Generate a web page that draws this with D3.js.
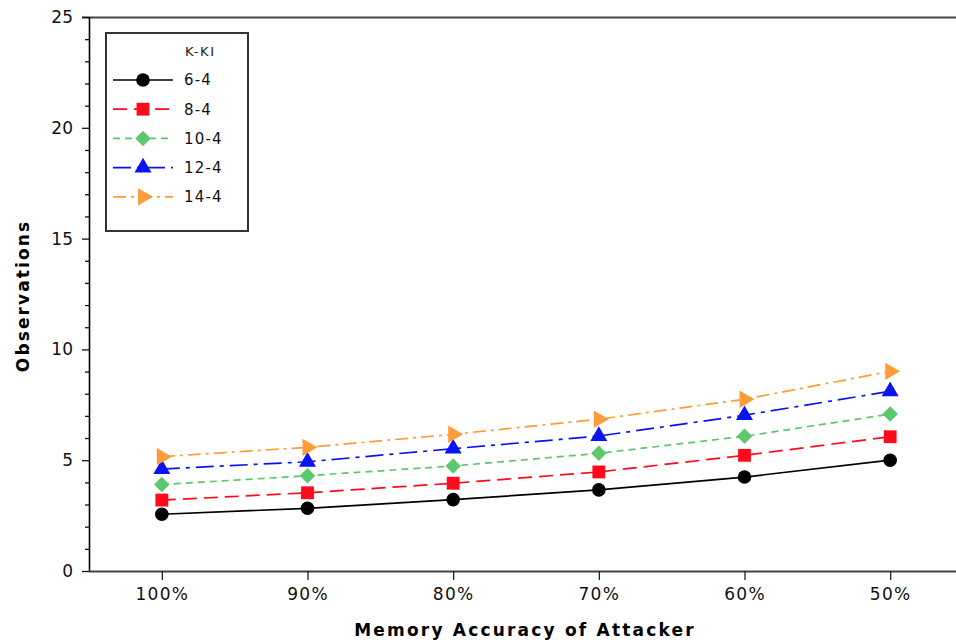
<!DOCTYPE html>
<html>
<head>
<meta charset="utf-8">
<script src="https://cdn.jsdelivr.net/npm/d3@7"></script>
<style>
  html, body { margin: 0; padding: 0; background: #fff; }
  svg { display: block; }
</style>
</head>
<body>
<svg id="chart" width="956" height="644"></svg>
<script>
const categories = ["100%", "90%", "80%", "70%", "60%", "50%"];
const seriesNames = ["6-4", "8-4", "10-4", "12-4", "14-4"];
const values_6_4  = [2.56, 2.83, 3.22, 3.66, 4.24, 5.00];
const values_8_4  = [3.20, 3.53, 3.96, 4.47, 5.22, 6.06];
const values_10_4 = [3.90, 4.30, 4.74, 5.31, 6.08, 7.08];
const values_12_4 = [4.60, 4.93, 5.52, 6.09, 7.03, 8.11];
const values_14_4 = [5.16, 5.58, 6.17, 6.85, 7.75, 9.01];
const yTicks = [0, 5, 10, 15, 20, 25];
const legendTitle = "K-KI";
const xTitle = "Memory Accuracy of Attacker";
const yTitle = "Observations";

const seriesValues = [values_6_4, values_8_4, values_10_4, values_12_4, values_14_4];
const styles = [
  { color: "#000000", dash: null,          symbol: "circle" },
  { color: "#ff0a1a", dash: "14,7",        symbol: "square" },
  { color: "#5cc86e", dash: "7,5",         symbol: "diamond" },
  { color: "#0a14f0", dash: "18,6,4,6",    symbol: "triangleUp" },
  { color: "#ff9c3a", dash: "13,5,3,5",    symbol: "triangleRight" }
];

const svg = d3.select("#chart");
const plotLeft = 89, plotTop = 17, plotBottom = 571, plotRightEnd = 963;
const x = d3.scalePoint().domain(categories).range([plotLeft, plotRightEnd]).padding(0.5);
const y = d3.scaleLinear().domain([0, 25]).range([plotBottom, plotTop]);

const FONT = "'DejaVu Sans', Verdana, sans-serif";

// top frame line
svg.append("line").attr("x1", plotLeft - 7).attr("x2", 956).attr("y1", y(25) + 0.5).attr("y2", y(25) + 0.5)
  .attr("stroke", "#444").attr("stroke-width", 2);

// minor y ticks
const yMinor = svg.append("g").attr("transform", `translate(${plotLeft},0)`)
  .call(d3.axisLeft(y).tickValues(d3.range(0, 26, 1).filter(v => v % 5 !== 0)).tickSize(4).tickFormat(""));
yMinor.select(".domain").remove();
yMinor.selectAll("line").attr("stroke", "#111").attr("stroke-width", 1.3);

// major y axis
const yAxis = svg.append("g").attr("transform", `translate(${plotLeft},0)`)
  .call(d3.axisLeft(y).tickValues(yTicks).tickSize(7).tickPadding(9).tickSizeOuter(0));
yAxis.select(".domain").attr("stroke", "#000").attr("stroke-width", 1.6);
yAxis.selectAll(".tick line").attr("stroke", "#111").attr("stroke-width", 1.3);
yAxis.selectAll("text").attr("font-family", FONT).attr("font-size", 17).attr("fill", "#111");

// x axis
const xAxis = svg.append("g").attr("transform", `translate(0,${plotBottom})`)
  .call(d3.axisBottom(x).tickSize(9).tickPadding(8).tickSizeOuter(0));
xAxis.select(".domain").attr("stroke", "#444").attr("stroke-width", 2).attr("d", `M${plotLeft},0.5H956`);
xAxis.selectAll(".tick line").attr("stroke", "#222").attr("stroke-width", 1.3);
xAxis.selectAll("text").attr("font-family", FONT).attr("font-size", 17).attr("fill", "#111")
  .attr("letter-spacing", "1.3px");

// axis titles
svg.append("text").attr("x", 525).attr("y", 636).attr("text-anchor", "middle")
  .attr("font-family", FONT).attr("font-weight", "bold").attr("font-size", 17)
  .attr("letter-spacing", "2.2px").attr("fill", "#000").text(xTitle);
svg.append("text").attr("transform", "translate(29,296) rotate(-90)").attr("text-anchor", "middle")
  .attr("font-family", FONT).attr("font-weight", "bold").attr("font-size", 17)
  .attr("letter-spacing", "2.1px").attr("fill", "#000").text(yTitle);

function symbolPath(kind) {
  switch (kind) {
    case "circle": return d3.symbol().type(d3.symbolCircle).size(145)();
    case "square": return d3.symbol().type(d3.symbolSquare).size(165)();
    case "diamond": return d3.symbol().type(d3.symbolSquare).size(120)();
    case "triangleUp": return d3.symbol().type(d3.symbolTriangle).size(125)();
    case "triangleRight": return d3.symbol().type(d3.symbolTriangle).size(130)();
  }
}
function symbolRotate(kind) {
  if (kind === "diamond") return 45;
  if (kind === "triangleRight") return 90;
  return 0;
}

const line = d3.line().x((d, i) => x(categories[i])).y(d => y(d));

seriesValues.forEach((vals, s) => {
  const st = styles[s];
  const g = svg.append("g");
  g.append("path").attr("d", line(vals)).attr("fill", "none")
    .attr("stroke", st.color).attr("stroke-width", 1.7)
    .attr("stroke-dasharray", st.dash);
  g.selectAll("path.m").data(vals).join("path").attr("class", "m")
    .attr("d", symbolPath(st.symbol))
    .attr("transform", (d, i) => `translate(${x(categories[i])},${y(d)}) rotate(${symbolRotate(st.symbol)})`)
    .attr("fill", st.color);
});

// legend
const lg = svg.append("g");
lg.append("rect").attr("x", 106).attr("y", 33).attr("width", 142).attr("height", 198)
  .attr("fill", "#fff").attr("stroke", "#333").attr("stroke-width", 2);
lg.append("text").attr("x", 185).attr("y", 51).attr("dy", "0.35em")
  .attr("font-family", FONT).attr("font-size", 13).attr("letter-spacing", "1.6px")
  .attr("fill", "#222").text(legendTitle);
seriesNames.forEach((name, s) => {
  const st = styles[s];
  const cy = 80 + s * 29.2;
  lg.append("line").attr("x1", 113).attr("x2", 173).attr("y1", cy).attr("y2", cy)
    .attr("stroke", st.color).attr("stroke-width", 1.7).attr("stroke-dasharray", st.dash);
  lg.append("path").attr("d", symbolPath(st.symbol))
    .attr("transform", `translate(143,${cy}) rotate(${symbolRotate(st.symbol)})`)
    .attr("fill", st.color);
  lg.append("text").attr("x", 184).attr("y", cy).attr("dy", "0.36em")
    .attr("font-family", FONT).attr("font-size", 15).attr("letter-spacing", "1.2px")
    .attr("fill", "#111").text(name);
});
</script>
</body>
</html>
